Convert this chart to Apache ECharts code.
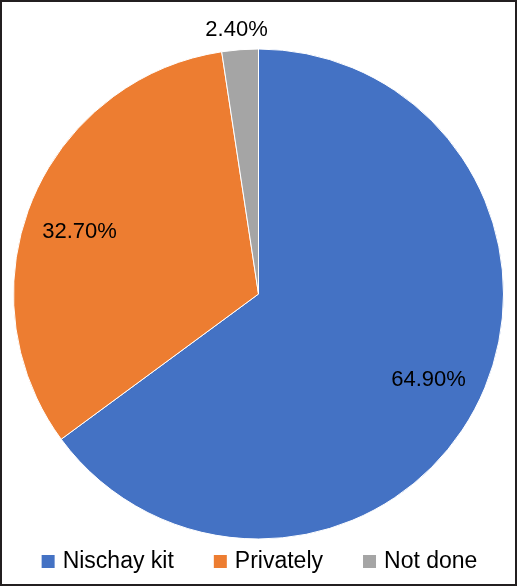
<!DOCTYPE html>
<html>
<head>
<meta charset="utf-8">
<script src="https://cdn.jsdelivr.net/npm/echarts@6/dist/echarts.min.js"></script>
<style>
  html, body { margin: 0; padding: 0; background: #fff; }
  #chart { width: 517px; height: 586px; }
</style>
</head>
<body>
<div id="chart"></div>
<script>
var categories = ['Nischay kit', 'Privately', 'Not done'];
var values = [64.9, 32.7, 2.4];
var colors = ['#4472C4', '#ED7D31', '#A5A5A5'];

var chart = echarts.init(document.getElementById('chart'));

var pieData = categories.map(function (name, i) {
    return { name: name, value: values[i], itemStyle: { color: colors[i] } };
});

// label layer: same slices, transparent, only to place the percentages
var labelData = categories.map(function (name, i) {
    var item = { name: name, value: values[i] };
    if (i === 2) {
        item.label = { position: 'outside' };
        item.labelLine = { show: false, length: 20, length2: 0 };
    }
    return item;
});

var fmt = function (p) { return p.value.toFixed(2) + '%'; };

var option = {
    animation: false,
    legend: {
        data: categories,
        bottom: 8,
        left: 'center',
        itemWidth: 15,
        itemHeight: 15,
        itemGap: 38,
        icon: 'rect',
        textStyle: { fontFamily: 'Liberation Sans, Arial', fontSize: 23, color: '#000', padding: [0, 0, 0, 2] }
    },
    graphic: [{
        type: 'rect',
        shape: { x: 1, y: 1, width: 515, height: 584 },
        style: { fill: 'none', stroke: '#231f20', lineWidth: 2 },
        silent: true
    }],
    series: [{
        name: 'main',
        type: 'pie',
        center: [258.5, 294],
        radius: 245,
        startAngle: 90,
        clockwise: true,
        label: { show: false },
        labelLine: { show: false },
        itemStyle: { borderColor: '#fff', borderWidth: 1 },
        data: pieData
    }, {
        name: 'labels',
        type: 'pie',
        silent: true,
        legendHoverLink: false,
        center: [258.5, 294],
        radius: [130, 245],
        startAngle: 90,
        clockwise: true,
        avoidLabelOverlap: false,
        itemStyle: { color: 'rgba(0,0,0,0)' },
        label: {
            show: true,
            position: 'inside',
            formatter: fmt,
            fontFamily: 'Liberation Sans, Arial',
            fontSize: 22,
            color: '#000'
        },
        labelLayout: function (p) {
            if (p.dataIndex === 2) return { align: 'center', dx: 3 };
            if (p.dataIndex === 1) return { dx: -3, dy: 11 };
            return {};
        },
        data: labelData
    }]
};
chart.setOption(option);
</script>
</body>
</html>
